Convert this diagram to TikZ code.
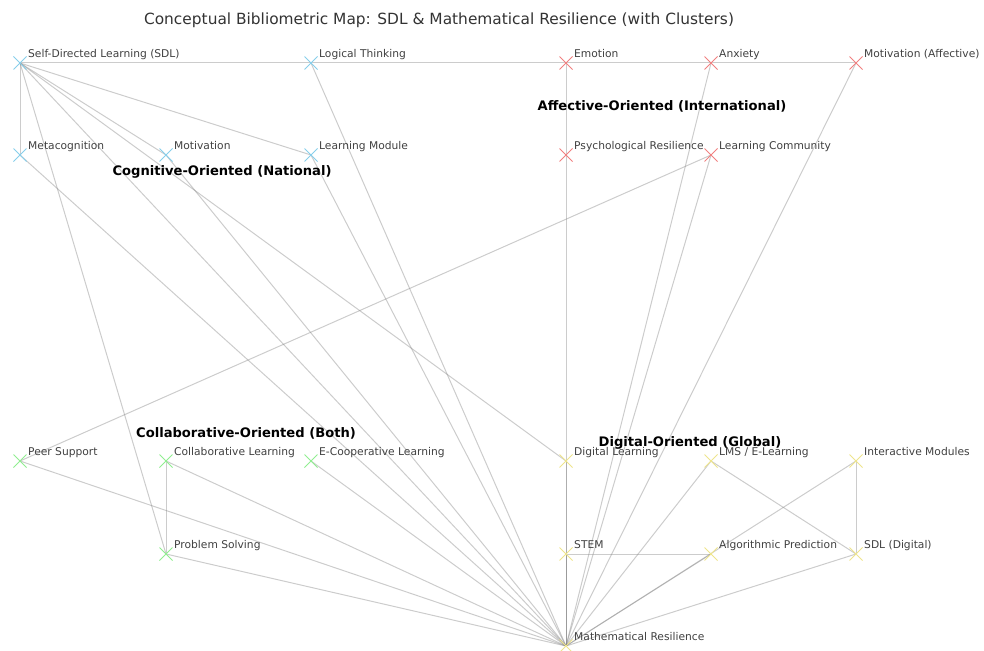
\documentclass[tikz,border=0pt]{standalone}
\usepackage{fontspec}
\setmainfont{DejaVu Sans}
\usetikzlibrary{shapes.misc,backgrounds}
\definecolor{cogc}{HTML}{87CEEB}
\definecolor{affc}{HTML}{F08080}
\definecolor{colc}{HTML}{90EE90}
\definecolor{digc}{HTML}{EEE48C}

\begin{document}
\begin{tikzpicture}[x=1pt,y=-1pt,
  mk/.style={cross out,draw=#1,line width=1pt,minimum size=12pt,inner sep=0pt},
  lbl/.style={anchor=base west,font=\fontsize{10.7}{12}\selectfont,text=black!75,inner sep=0pt},
  clu/.style={font=\fontsize{13.1}{15}\selectfont\bfseries,inner sep=0pt},
  edge/.style={draw=black!50,line width=1pt,opacity=.4}]
\useasboundingbox (0,0) rectangle (984,650);
\node[font=\fontsize{15.4}{17}\selectfont,text=black!80] (title) at (439,20) {Conceptual Bibliometric Map: SDL \& Mathematical Resilience (with Clusters)};
% cognitive cluster
\node[mk=cogc] (sdl) at (20,63) {};
\node[mk=cogc] (lt) at (311,63) {};
\node[mk=cogc] (meta) at (20,155) {};
\node[mk=cogc] (mot) at (166,155) {};
\node[mk=cogc] (lm) at (311,155) {};
\node[lbl] (sdl-t) at (28,57.5) {Self-Directed Learning (SDL)};
\node[lbl] (lt-t) at (319,57.5) {Logical Thinking};
\node[lbl] (meta-t) at (28,149.5) {Metacognition};
\node[lbl] (mot-t) at (174,149.5) {Motivation};
\node[lbl] (lm-t) at (319,149.5) {Learning Module};
% affective cluster
\node[mk=affc] (emo) at (566,63) {};
\node[mk=affc] (anx) at (711,63) {};
\node[mk=affc] (mota) at (856,63) {};
\node[mk=affc] (pr) at (566,155) {};
\node[mk=affc] (lc) at (711,155) {};
\node[lbl] (emo-t) at (574,57.5) {Emotion};
\node[lbl] (anx-t) at (719,57.5) {Anxiety};
\node[lbl] (mota-t) at (864,57.5) {Motivation (Affective)};
\node[lbl] (pr-t) at (574,149.5) {Psychological Resilience};
\node[lbl] (lc-t) at (719,149.5) {Learning Community};
% collaborative cluster
\node[mk=colc] (ps) at (20,461) {};
\node[mk=colc] (cl) at (166,461) {};
\node[mk=colc] (ecl) at (311,461) {};
\node[mk=colc] (psolv) at (166,554) {};
\node[lbl] (ps-t) at (28,455.5) {Peer Support};
\node[lbl] (cl-t) at (174,455.5) {Collaborative Learning};
\node[lbl] (ecl-t) at (319,455.5) {E-Cooperative Learning};
\node[lbl] (psolv-t) at (174,548.5) {Problem Solving};
% digital cluster
\node[mk=digc] (dl) at (566,461) {};
\node[mk=digc] (lms) at (711,461) {};
\node[mk=digc] (im) at (856,461) {};
\node[mk=digc] (stem) at (566,554) {};
\node[mk=digc] (ap) at (711,554) {};
\node[mk=digc] (sdld) at (856,554) {};
\node[mk=digc] (mr) at (566,646) {};
\node[lbl] (dl-t) at (574,455.5) {Digital Learning};
\node[lbl] (lms-t) at (719,455.5) {LMS / E-Learning};
\node[lbl] (im-t) at (864,455.5) {Interactive Modules};
\node[lbl] (stem-t) at (574,548.5) {STEM};
\node[lbl] (ap-t) at (719,548.5) {Algorithmic Prediction};
\node[lbl] (sdld-t) at (864,548.5) {SDL (Digital)};
\node[lbl] (mr-t) at (574,640.5) {Mathematical Resilience};
% cluster names
\node[clu] (cog) at (222,172) {Cognitive-Oriented (National)};
\node[clu] (aff) at (662,106) {Affective-Oriented (International)};
\node[clu] (col) at (246,433) {Collaborative-Oriented (Both)};
\node[clu] (dig) at (690,443) {Digital-Oriented (Global)};
% links
\begin{scope}[on background layer]
\foreach \a/\b in {sdl/lt,lt/emo,emo/anx,anx/mota,sdl/meta,sdl/mot,sdl/lm,sdl/psolv,sdl/mr,sdl/dl,
  meta/mr,mot/mr,lt/mr,lm/mr,emo/pr,pr/mr,anx/mr,lc/mr,mota/mr,lc/ps,ps/mr,cl/psolv,cl/mr,ecl/mr,
  psolv/mr,dl/mr,stem/mr,stem/ap,lms/sdld,lms/mr,im/mr,ap/mr,im/sdld,sdld/mr}
  \draw[edge] (\a.center) -- (\b.center);
\end{scope}
\end{tikzpicture}
\end{document}
